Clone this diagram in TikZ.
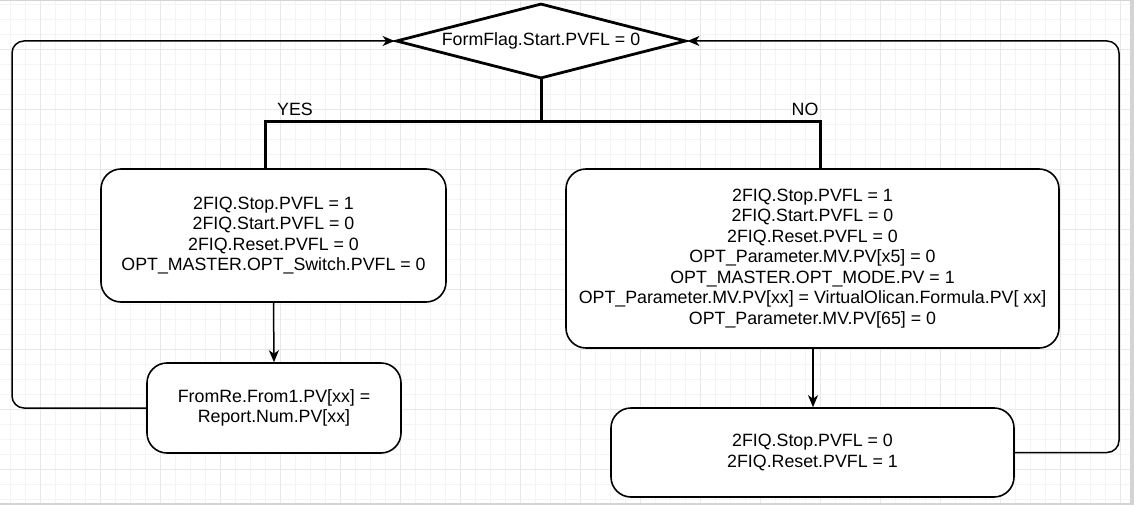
\documentclass[tikz,border=0pt]{standalone}
\usepackage{fontspec}
\setmainfont{Liberation Sans}
\usetikzlibrary{shapes.geometric,arrows.meta,calc}
\definecolor{gridminor}{HTML}{F4F4F4}
\definecolor{gridmajor}{HTML}{E8E8E8}
\definecolor{framegrey}{HTML}{D4D4D4}
\tikzset{
  box/.style={draw=black, line width=1.6pt, rounded corners=20pt, fill=white, align=center, inner sep=0pt,
    font=\fontsize{17.8}{20.5}\selectfont},
  dia/.style={draw=black, line width=2.8pt, shape=diamond, fill=white, inner sep=0pt, shape aspect=3.87,
    minimum width=290pt, minimum height=75pt, font=\fontsize{17.8}{20.5}\selectfont},
  thickline/.style={line width=3pt, line cap=rect},
  arrow/.style={line width=1.5pt, -{Stealth[length=12pt,width=10pt,inset=3.5pt]}},
  loopline/.style={line width=1.5pt, rounded corners=12pt, -{Stealth[length=12pt,width=10pt,inset=3.5pt]}},
  lbl/.style={font=\fontsize{17.8}{20.5}\selectfont, inner sep=0pt}
}
\begin{document}
\begin{tikzpicture}[x=1pt,y=-1pt]
\useasboundingbox (0,0) rectangle (1134,505);
% grid
\foreach \i in {0,...,75} {\draw[gridminor, line width=1pt] ({10.7+15*\i},0) -- ({10.7+15*\i},505);}
\foreach \j in {0,...,33} {\draw[gridminor, line width=1pt] (0,{4.3+15*\j}) -- (1134,{4.3+15*\j});}
\foreach \i in {0,...,18} {\draw[gridmajor, line width=1.2pt] ({40.7+60*\i},0) -- ({40.7+60*\i},505);}
\foreach \j in {0,...,8} {\draw[gridmajor, line width=1.2pt] (0,{49.3+60*\j}) -- (1134,{49.3+60*\j});}
% frame
\fill[framegrey] (0,0) rectangle (1134,1.5);
\fill[framegrey] (1130,0) rectangle (1134,505);
\fill[framegrey] (0,502.5) rectangle (1134,505);

% nodes
\node[dia] (d) at (541,41) {FormFlag.Start.PVFL = 0};
\node[box, minimum width=345pt, minimum height=133pt] (b1) at (273.5,235.5)
  {2FIQ.Stop.PVFL = 1\\2FIQ.Start.PVFL = 0\\2FIQ.Reset.PVFL = 0\\OPT\_MASTER.OPT\_Switch.PVFL = 0};
\node[box, minimum width=493pt, minimum height=179pt] (b2) at (812.5,258.5)
  {2FIQ.Stop.PVFL = 1\\2FIQ.Start.PVFL = 0\\2FIQ.Reset.PVFL = 0\\OPT\_Parameter.MV.PV[x5] = 0\\OPT\_MASTER.OPT\_MODE.PV = 1\\OPT\_Parameter.MV.PV[xx] = VirtualOlican.Formula.PV[ xx]\\OPT\_Parameter.MV.PV[65] = 0};
\node[box, minimum width=254pt, minimum height=90pt] (b3) at (274,408)
  {FromRe.From1.PV[xx] =\\Report.Num.PV[xx]};
\node[box, minimum width=403pt, minimum height=89pt] (b4) at (812.5,452.5)
  {2FIQ.Stop.PVFL = 0\\2FIQ.Reset.PVFL = 1};

% branch
\coordinate (j) at (541,122);
\coordinate (jl) at (265,122);
\coordinate (jr) at (820,122);
\draw[thickline] (d.south) -- (j);
\draw[thickline] (j) -- (jl) -- ([xshift=-8.5pt]b1.north);
\draw[thickline] (j) -- (jr) -- ([xshift=7.5pt]b2.north);
\node[lbl] (yes) at (295,109) {YES};
\node[lbl] (no) at (805,109) {NO};

% arrows
\draw[arrow] (b1.south) -- (b3.north);
\draw[arrow] ([xshift=0.5pt]b2.south) -- ([xshift=0.5pt]b4.north);

% loops
\coordinate (l1) at (12,408);
\coordinate (l2) at (12,41);
\draw[loopline] (b3.west) -- (l1) -- (l2) -- (d.west);
\coordinate (r1) at (1119,452.5);
\coordinate (r2) at (1119,41);
\draw[loopline] (b4.east) -- (r1) -- (r2) -- (d.east);
\end{tikzpicture}
\end{document}
